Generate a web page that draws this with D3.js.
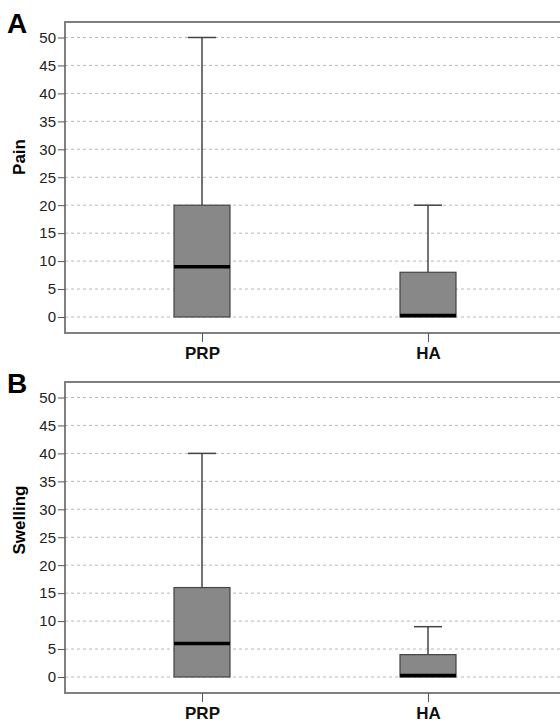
<!DOCTYPE html>
<html>
<head>
<meta charset="utf-8">
<script src="https://cdn.jsdelivr.net/npm/d3@7"></script>
<style>
  body { margin: 0; background: #fff; }
  svg { display: block; font-family: "Liberation Sans", Arial, sans-serif; }
</style>
</head>
<body>
<svg id="chart"></svg>
<script>
var categories = ["PRP", "HA"];
var yTicks = [0, 5, 10, 15, 20, 25, 30, 35, 40, 45, 50];
// [min, q1, median, q3, max]
var painStats = [[0, 0, 9, 20, 50], [0, 0, 0, 8, 20]];
var swellingStats = [[0, 0, 6, 16, 40], [0, 0, 0, 4, 9]];

var width = 560, height = 722;
var svg = d3.select("#chart")
            .attr("width", width)
            .attr("height", height);

var drawPanel = function(stats, letter, title, top, titleY){
  var frameLeft = 65;
  var frameTop = top;
  var yScale = d3.scaleLinear()
                 .domain([0, 50])
                 .range([top + 295, top + 15.5]);
  var frameBottom = yScale(0) + 16;

  var xScale = d3.scalePoint()
                 .domain(categories)
                 .range([202, 428]);

  var g = svg.append("g");

  // dashed grid
  g.selectAll("line.grid")
   .data(yTicks)
   .enter()
   .append("line")
   .attr("class", "grid")
   .attr("x1", frameLeft)
   .attr("x2", width)
   .attr("y1", function(d){return yScale(d)})
   .attr("y2", function(d){return yScale(d)})
   .attr("stroke", "#b8b8b8")
   .attr("stroke-width", 1)
   .attr("stroke-dasharray", "3,3");

  // frame
  g.append("path")
   .attr("d", "M" + width + "," + frameTop + "H" + frameLeft + "V" + frameBottom + "H" + width)
   .attr("fill", "none")
   .attr("stroke", "#808080")
   .attr("stroke-width", 2);

  // y axis
  var yAxis = d3.axisLeft(yScale)
                .tickValues(yTicks)
                .tickSize(7)
                .tickPadding(2);
  var ya = g.append("g")
            .attr("transform", "translate(" + frameLeft + ",0)")
            .call(yAxis);
  ya.select(".domain").remove();
  ya.selectAll(".tick line").attr("stroke", "#555");
  ya.selectAll(".tick text")
    .attr("font-size", 15)
    .attr("fill", "#222");

  // x axis
  var xAxis = d3.axisBottom(xScale)
                .tickSize(9)
                .tickPadding(5);
  var xa = g.append("g")
            .attr("transform", "translate(0," + frameBottom + ")")
            .call(xAxis);
  xa.select(".domain").remove();
  xa.selectAll(".tick line").attr("stroke", "#555");
  xa.selectAll(".tick text")
    .attr("font-size", 17)
    .attr("font-weight", "bold")
    .attr("fill", "#111");

  var boxes = g.selectAll("g.box")
               .data(stats)
               .enter()
               .append("g")
               .attr("class", "box");

  // whisker
  boxes.append("line")
       .attr("x1", function(d,i){return xScale(categories[i])})
       .attr("x2", function(d,i){return xScale(categories[i])})
       .attr("y1", function(d){return yScale(d[3])})
       .attr("y2", function(d){return yScale(d[4])})
       .attr("stroke", "#444")
       .attr("stroke-width", 1.5);
  boxes.append("line")
       .attr("x1", function(d,i){return xScale(categories[i]) - 14})
       .attr("x2", function(d,i){return xScale(categories[i]) + 14})
       .attr("y1", function(d){return yScale(d[4])})
       .attr("y2", function(d){return yScale(d[4])})
       .attr("stroke", "#444")
       .attr("stroke-width", 1.5);

  boxes.append("rect")
       .attr("x", function(d,i){return xScale(categories[i]) - 28})
       .attr("width", 56)
       .attr("y", function(d){return yScale(d[3])})
       .attr("height", function(d){return yScale(d[1]) - yScale(d[3])})
       .attr("fill", "#888888")
       .attr("stroke", "#444")
       .attr("stroke-width", 1.2);

  boxes.append("line")
       .attr("x1", function(d,i){return xScale(categories[i]) - 28})
       .attr("x2", function(d,i){return xScale(categories[i]) + 28})
       .attr("y1", function(d){return yScale(d[2]) - (d[2] === d[1] ? 1.5 : 0)})
       .attr("y2", function(d){return yScale(d[2]) - (d[2] === d[1] ? 1.5 : 0)})
       .attr("stroke", "#000")
       .attr("stroke-width", 3.5);

  // panel letter
  svg.append("text")
     .attr("x", 7)
     .attr("y", top + 11)
     .attr("font-size", 28)
     .attr("font-weight", "bold")
     .text(letter);

  // y title
  svg.append("text")
     .attr("transform", "translate(25," + titleY + ") rotate(-90)")
     .attr("text-anchor", "middle")
     .attr("font-size", 17)
     .attr("font-weight", "bold")
     .text(title);
}

drawPanel(painStats, "A", "Pain", 22, 157);
drawPanel(swellingStats, "B", "Swelling", 382, 520);
</script>
</body>
</html>
